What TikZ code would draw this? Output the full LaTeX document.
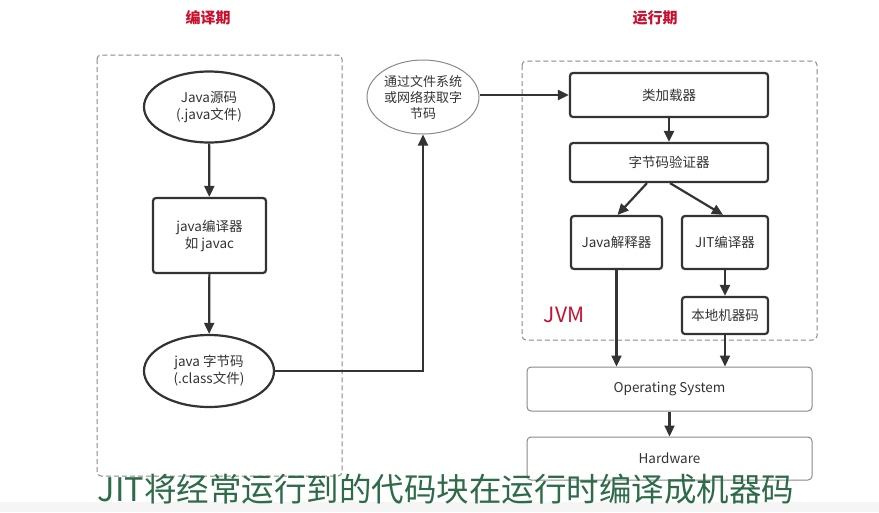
\documentclass[tikz,border=0pt]{standalone}
\usepackage{fontspec}
\setmainfont{Noto Sans CJK SC}
\usetikzlibrary{shapes.geometric,arrows.meta,calc}
\definecolor{dk}{HTML}{333333}
\definecolor{lg}{HTML}{8A8A8A}
\definecolor{ttl}{HTML}{C8102E}
\definecolor{subg}{HTML}{2E6B48}
\begin{document}
\begin{tikzpicture}[x=1pt,y=-1pt,
 base/.style={font=\fontsize{13.5}{17}\selectfont, text=dk, align=center, inner sep=0pt},
 thickbox/.style={base, draw=dk, line width=2.2pt, rounded corners=3pt},
 thinbox/.style={base, draw=lg, line width=1pt, rounded corners=4pt},
 oval/.style={base, ellipse, draw=dk, line width=2.2pt},
 arr/.style={draw=dk, line width=2.2pt, -{Triangle[length=11pt,width=10pt]}},
 grp/.style={draw=lg, line width=1pt, rounded corners=4pt, dash pattern=on 5pt off 3pt},
 title/.style={font=\fontsize{15}{18}\selectfont\bfseries, text=ttl, inner sep=0pt},
]
\useasboundingbox (0,0) rectangle (879,512);
\fill[white] (0,0) rectangle (879,512);
\fill[gray!8] (0,502) rectangle (879,512);

% titles
\node[title] (t1) at (208,18) {编译期};
\node[title] (t2) at (655,18) {运行期};

% group boxes
\draw[grp] (97,55) rectangle (342,476);
\draw[grp] (522,61) rectangle (817,340);

% left column
\node[oval, minimum width=130, minimum height=71] (src) at (209,107) {Java源码\\(.java文件)};
\node[thickbox, minimum width=113, minimum height=75] (javac) at (209.5,235.5) {java编译器\\如 javac};
\node[oval, minimum width=130, minimum height=72] (cls) at (209,371) {java 字节码\\(.class文件)};

% network ellipse
\node[base, ellipse, draw=lg, line width=1pt, minimum width=112, minimum height=74, font=\fontsize{13}{16}\selectfont] (net) at (423,97) {通过文件系统\\或网络获取字\\节码};

% JVM
\node[thickbox, minimum width=198, minimum height=44] (load) at (669,95) {类加载器};
\node[thickbox, minimum width=198, minimum height=39] (ver) at (669,162.5) {字节码验证器};
\node[thickbox, minimum width=91, minimum height=53] (interp) at (616.5,242.5) {Java解释器};
\node[thickbox, minimum width=86, minimum height=53] (jit) at (725,242.5) {JIT编译器};
\node[thickbox, minimum width=86, minimum height=37] (native) at (725,315.5) {本地机器码};
\node[font=\fontsize{21}{24}\selectfont, text=ttl, inner sep=0pt] (jvm) at (564,315) {JVM};

% OS / hardware
\node[thinbox, minimum width=285, minimum height=44] (os) at (669.5,389) {Operating System};
\node[thinbox, minimum width=285, minimum height=43] (hw) at (669.5,458.5) {Hardware};

% connectors
\draw[arr] (src) -- (javac);
\draw[arr] (javac) -- (cls);
\draw[arr] (cls.east) -| (net.south);
\draw[arr] (net.east |- load.west) -- (load.west);
\draw[arr] (load) -- (ver);
\draw[arr] ($(ver.south)+(-22,0)$) -- ($(interp.north)+(1,0)$);
\draw[arr] ($(ver.south)+(1,0)$) -- ($(jit.north)+(-2,0)$);
\draw[arr] (jit) -- (native);
\draw[arr] (interp.south) -- (interp.south |- os.north);
\draw[arr] (native.south) -- (native.south |- os.north);
\draw[arr] (os) -- (hw);

% subtitle
\node[font=\fontsize{32.5}{36}\selectfont, text=subg, inner sep=0pt] (sub) at (446,489) {JIT将经常运行到的代码块在运行时编译成机器码};
\end{tikzpicture}
\end{document}
